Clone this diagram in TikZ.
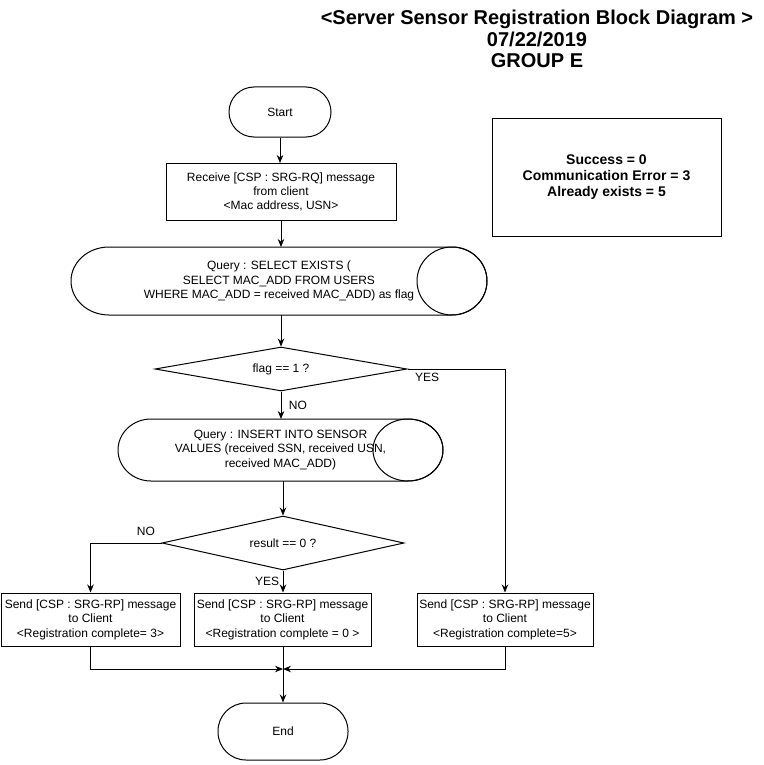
\documentclass[tikz,border=0pt]{standalone}
\usepackage{fontspec}
\setmainfont{Liberation Sans}
\usetikzlibrary{arrows.meta,shapes.geometric,positioning}

\begin{document}
\begin{tikzpicture}[x=1pt, y=-1pt, >={Stealth[length=8pt,width=6.5pt]},
   line width=1pt, font=\fontsize{12}{14.4}\selectfont,
   term/.style={rectangle, draw, rounded corners=25pt, align=center},
   proc/.style={rectangle, draw, align=center, inner sep=2pt},
   query/.style={rectangle, align=center, outer sep=0pt, inner sep=0pt},
   cond/.style={diamond, draw, aspect=4, inner sep=0pt, align=center}]
   \useasboundingbox (0,0) rectangle (763,765);

   \node (title) at (537,39) [align=center, font=\bfseries\fontsize{20}{21.5}\selectfont]
      {<Server Sensor Registration Block Diagram >\\07/22/2019\\GROUP E};
   \node (legend) at (606.5,177.5) [proc, minimum width=229, minimum height=118,
      font=\bfseries\fontsize{14}{16}\selectfont]
      {Success = 0\\Communication Error = 3\\Already exists = 5};

   \node (st) at (280,112) [term, minimum width=102, minimum height=50] {Start};
   \node (recv) at (281,192) [proc, minimum width=230, minimum height=57] {Receive [CSP : SRG-RQ] message\\
from client\\
<Mac address, USN>};
   \node (q1) at (279,281) [query, minimum width=416, minimum height=68] {Query : SELECT EXISTS (\\
SELECT MAC\_ADD FROM USERS\\
WHERE MAC\_ADD = received MAC\_ADD) as flag};
   \node (c1) at (281,369) [cond, minimum width=252, minimum height=44] {flag == 1 ?};
   \node (q2) at (280.5,450) [query, minimum width=325, minimum height=62] {Query : INSERT INTO SENSOR\\
VALUES (received SSN, received USN,\\
received MAC\_ADD)};
   \node (c2) at (283,543) [cond, minimum width=242, minimum height=54] {result == 0 ?};
   \node (s1) at (90.5,619.5) [proc, minimum width=179, minimum height=53] {Send [CSP : SRG-RP] message\\
to Client\\
<Registration complete= 3>};
   \node (s2) at (282.5,619.5) [proc, minimum width=177, minimum height=53] {Send [CSP : SRG-RP] message\\
to Client\\
<Registration complete = 0 >};
   \node (s3) at (505,619.5) [proc, minimum width=176, minimum height=53] {Send [CSP : SRG-RP] message\\
to Client\\
<Registration complete=5>};
   \node (en) at (283,731.5) [term, rounded corners=28pt, minimum width=130, minimum height=57] {End};
   \coordinate (m) at (283,669);

   % horizontal cylinders
   \draw ([xshift=38pt]q1.north west) -- ([xshift=-35pt]q1.north east)
      arc[start angle=90, end angle=-90, x radius=35pt, y radius=34pt]
      -- ([xshift=38pt]q1.south west)
      arc[start angle=270, end angle=90, x radius=38pt, y radius=34pt] -- cycle;
   \draw ([xshift=-35pt]q1.east) ellipse [x radius=35pt, y radius=34pt];
   \draw ([xshift=33pt]q2.north west) -- ([xshift=-35pt]q2.north east)
      arc[start angle=90, end angle=-90, x radius=35pt, y radius=31pt]
      -- ([xshift=33pt]q2.south west)
      arc[start angle=270, end angle=90, x radius=33pt, y radius=31pt] -- cycle;
   \draw ([xshift=-35pt]q2.east) ellipse [x radius=35pt, y radius=31pt];

   \draw (st)[->] -- (recv.north -| st);
   \draw (recv)[->] -- (q1.north -| recv);
   \draw (q1.south -| c1)[->] -- (c1);
   \draw (c1)[->] -- node[right, xshift=4pt]{NO} (q2.north -| c1);
   \draw (c1.east)[->] -| node[pos=0.1, below]{YES} (s3.north);
   \draw (c2.north |- q2.south)[->] -- (c2.north);
   \draw (c2.west)[->] -| node[pos=0.11, above, yshift=4pt]{NO} (s1.north);
   \draw (c2)[->] -- node[left]{YES} (s2.north -| c2);
   \draw (s1.south)[->] |- (m);
   \draw (s3.south)[->] |- (m);
   \draw (s2.south -| en.north)[->] -- (en.north);

\end{tikzpicture}
\end{document}
